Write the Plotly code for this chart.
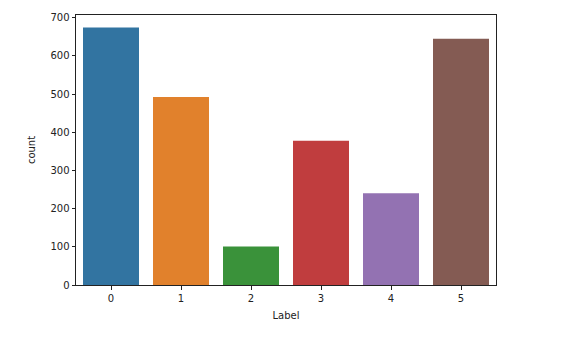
import plotly.graph_objects as go

categories = ["0", "1", "2", "3", "4", "5"]
counts = [674, 492, 101, 378, 240, 645]
colors = ["#3274a1", "#e1812c", "#3a923a", "#c03d3e", "#9372b2", "#845b53"]
y_ticks = [0, 100, 200, 300, 400, 500, 600, 700]

fig = go.Figure(go.Bar(
    x=categories, y=counts, marker=dict(color=colors, line=dict(width=0)),
    width=0.8,
))

font = dict(family="DejaVu Sans", size=10, color="#222222")
axis_common = dict(
    showline=True, linecolor="#222222", linewidth=1, mirror=True,
    ticks="outside", ticklen=3.5, tickwidth=0.8, tickcolor="#222222",
    showgrid=False, zeroline=False, tickfont=font,
)
fig.update_layout(
    width=561, height=338,
    margin=dict(l=76, r=65, t=13, b=53),
    paper_bgcolor="white", plot_bgcolor="white",
    showlegend=False, bargap=0.2,
    xaxis=dict(**axis_common, type="category", range=[-0.5, 5.5],
               title=dict(text="Label", font=font, standoff=9)),
    yaxis=dict(**axis_common, range=[0, 707], tickvals=y_ticks,
               title=dict(text="count", font=font, standoff=12)),
)
fig.write_html("out.html")
